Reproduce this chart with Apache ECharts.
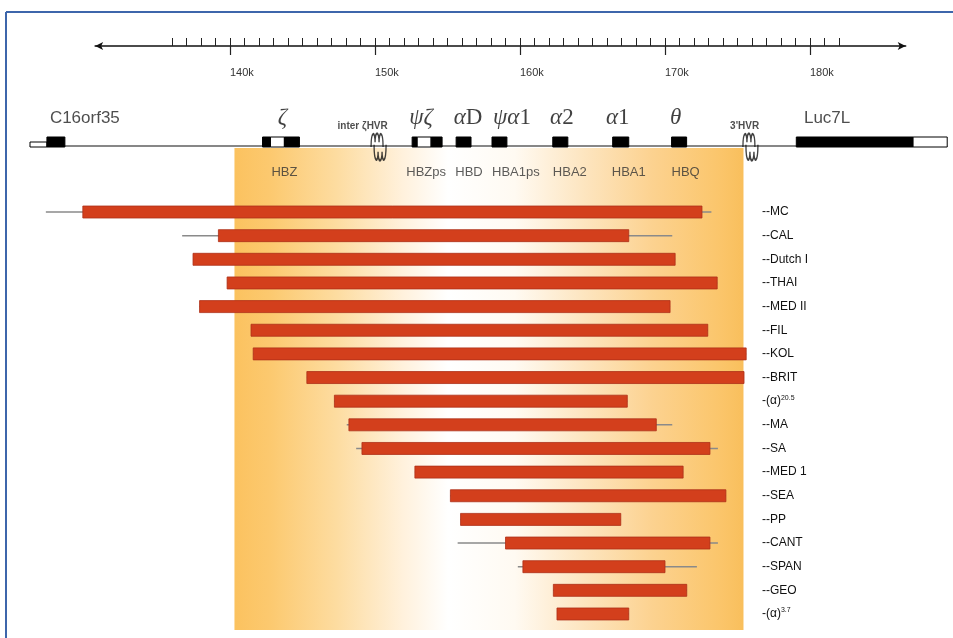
<!DOCTYPE html>
<html>
<head>
<meta charset="utf-8">
<script src="https://cdn.jsdelivr.net/npm/echarts@6/dist/echarts.min.js"></script>
<style>
html,body{margin:0;padding:0;background:#fff;}
#chart{width:953px;height:638px;}
</style>
</head>
<body>
<div id="chart"></div>
<script>
// ruler, in kb
var rulerStart = 130.7, rulerEnd = 186.6;
var minorFrom = 136, minorTo = 182;
var majorFrom = 140, majorTo = 180;

// gene track
var trackFrom = 126.2, trackTo = 189.6;
var segStart = [126.21, 127.38, 142.28, 142.83, 143.79, 152.62, 152.97, 153.93, 155.66, 158.14, 162.34, 166.48, 170.55, 179.17, 187.24];
var segEnd   = [127.38, 128.62, 142.83, 143.79, 144.83, 152.97, 153.93, 154.69, 156.69, 159.17, 163.38, 167.59, 171.59, 187.24, 189.6];
var segKind  = ['utr', 'exon', 'exon', 'gap', 'exon', 'exon', 'gap', 'exon', 'exon', 'exon', 'exon', 'exon', 'exon', 'exon', 'gap'];
var hvrPos = [150.3, 176.0];
var hvrText = ['inter ζHVR', "3'HVR"];
var hvrTextPos = [149.2, 175.6];
var greekText = ['ζ', 'ψζ', 'αD', 'ψα1', 'α2', 'α1', 'θ'];
var greekPos = [143.66, 153.24, 156.48, 159.52, 162.97, 166.83, 170.83];
var symText = ['HBZ', 'HBZps', 'HBD', 'HBA1ps', 'HBA2', 'HBA1', 'HBQ'];
var symPos = [143.79, 153.59, 156.55, 159.79, 163.52, 167.59, 171.52];
var flankText = ['C16orf35', 'Luc7L'];
var flankPos = [130.0, 181.3];

// shaded cluster region
var bandFrom = 140.34, bandTo = 175.52;

// deletions
var delNames = ['MC', 'CAL', 'Dutch I', 'THAI', 'MED II', 'FIL', 'KOL', 'BRIT', '(α)^20.5', 'MA', 'SA', 'MED 1', 'SEA', 'PP', 'CANT', 'SPAN', 'GEO', '(α)^3.7'];
var lineStart = [127.3, 136.7, 137.45, 139.8, 137.9, 141.45, 141.6, 145.3, 147.2, 148.05, 148.7, 152.75, 155.2, 155.9, 155.7, 159.85, 162.3, 162.55];
var barStart  = [129.85, 139.2, 137.45, 139.8, 137.9, 141.45, 141.6, 145.3, 147.2, 148.2, 149.1, 152.75, 155.2, 155.9, 159.0, 160.2, 162.3, 162.55];
var barEnd    = [172.55, 167.5, 170.7, 173.6, 170.35, 172.95, 175.6, 175.45, 167.4, 169.4, 173.1, 171.25, 174.2, 166.95, 173.1, 170.0, 171.5, 167.5];
var lineEnd   = [173.2, 170.5, 170.7, 173.6, 170.35, 172.95, 175.6, 175.45, 167.4, 170.5, 173.65, 171.25, 174.2, 166.95, 173.65, 172.2, 171.5, 167.5];

// layout: px of 140k and px per kb
var PX0 = 230, PXK = 14.5;
function span(a, b, top, height) {
	return {left: PX0 + (a - 140) * PXK, width: (b - a) * PXK, top: top, height: height};
}

var SANS = "'Liberation Sans', Arial, sans-serif";
var SERIF = "'Liberation Serif', 'Times New Roman', serif";

var myChart = echarts.init(document.getElementById('chart'));

// gene boxes
var kindStyle = {
	exon: {h: 10, fill: '#000', stroke: '#000'},
	gap: {h: 10, fill: '#fff', stroke: '#000'},
	utr: {h: 5, fill: '#fff', stroke: '#000'}
};
function renderSeg(params, api) {
	var p0 = api.coord([api.value(0), 50]);
	var p1 = api.coord([api.value(1), 50]);
	var k = kindStyle[segKind[params.dataIndex]];
	return {type: 'rect', shape: {x: p0[0], y: p0[1] + 1 - k.h, width: p1[0] - p0[0], height: k.h},
		style: {fill: k.fill, stroke: k.stroke, lineWidth: 1}};
}

function renderBand(params, api) {
	var a = api.coord([api.value(0), 1]);
	var b = api.coord([api.value(1), 0]);
	return {type: 'rect', shape: {x: a[0], y: a[1], width: b[0] - a[0], height: b[1] - a[1]},
		style: {fill: new echarts.graphic.LinearGradient(0, 0, 1, 0, [
			{offset: 0, color: '#fbc25f'},
			{offset: 0.07, color: '#fcc96f'},
			{offset: 0.2, color: '#fddca0'},
			{offset: 0.33, color: '#fff1dc'},
			{offset: 0.42, color: '#ffffff'},
			{offset: 0.55, color: '#fffaf2'},
			{offset: 0.68, color: '#fde6c2'},
			{offset: 0.82, color: '#fcd290'},
			{offset: 0.95, color: '#fbc66c'},
			{offset: 1, color: '#f9bf5c'}
		])}};
}

function renderDeletion(params, api) {
	var row = api.value(1);
	var a = api.coord([api.value(0), row]);
	var b = api.coord([api.value(2), row]);
	var c = api.coord([api.value(3), row]);
	var d = api.coord([api.value(4), row]);
	var h = 12;
	return {type: 'group', children: [
		{type: 'line', shape: {x1: a[0], y1: a[1], x2: d[0], y2: d[1]}, style: {stroke: '#8a8a8a', lineWidth: 1.5}},
		{type: 'rect', shape: {x: b[0], y: b[1] - h / 2, width: c[0] - b[0], height: h},
			style: {fill: '#d33f1c', stroke: '#ad3018', lineWidth: 0.8}}
	]};
}

function textPoints(pos, texts, y) {
	return pos.map(function (v, i) { return {value: [v, y], name: texts[i]}; });
}

function greekFmt(p) {
	return p.name.split('').map(function (ch) {
		return /[α-ω]/.test(ch) ? '{g|' + ch + '}' : '{n|' + ch + '}';
	}).join('');
}

var hidden = {show: false};
var trackGrid = span(125, 190, 96, 100);
var delGrid = span(125, 176, 200.2, 425.6);

// tandem repeat (HVR) glyph
var hvrSymbol = 'path://M0,14 C0,0 4,0 4,10 C4,0 8,0 8,10 C8,0 12,0 12,14 M3,12 C3,28 7,28 7,18 C7,28 11,28 11,18 C11,28 15,28 15,12';

var option = {
	animation: false,
	backgroundColor: '#fff',
	graphic: [
		{type: 'line', shape: {x1: 6, y1: 12, x2: 953, y2: 12}, style: {stroke: '#3d66ab', lineWidth: 2}},
		{type: 'line', shape: {x1: 6, y1: 12, x2: 6, y2: 638}, style: {stroke: '#3d66ab', lineWidth: 2}}
	],
	grid: [
		span(rulerStart, rulerEnd, 45, 1),
		span(minorFrom, minorTo, 45, 1),
		span(majorFrom, majorTo, 45, 1),
		span(125, 190, 148, 482),
		trackGrid,
		delGrid
	],
	xAxis: [
		{gridIndex: 0, type: 'value', min: rulerStart, max: rulerEnd, splitLine: hidden, axisTick: hidden, axisLabel: hidden,
			axisLine: {show: true, symbol: ['arrow', 'arrow'], symbolSize: [6, 8], lineStyle: {color: '#111', width: 1.5}}},
		{gridIndex: 1, type: 'value', min: minorFrom, max: minorTo, interval: 1, splitLine: hidden, axisLabel: hidden,
			axisLine: hidden, axisTick: {show: true, inside: true, length: 8, lineStyle: {color: '#222', width: 1}}},
		{gridIndex: 2, type: 'value', min: majorFrom, max: majorTo, interval: 10, splitLine: hidden,
			axisLine: hidden, axisTick: {show: true, inside: false, length: 9, lineStyle: {color: '#222', width: 1.2}},
			axisLabel: {show: true, margin: 21, align: 'left', fontSize: 11, color: '#333', fontFamily: SANS,
				formatter: function (v) { return v + 'k'; }}},
		{gridIndex: 3, type: 'value', min: 125, max: 190, show: false},
		{gridIndex: 4, type: 'value', min: 125, max: 190, show: false},
		{gridIndex: 5, type: 'value', min: 125, max: 176, show: false}
	],
	yAxis: [
		{gridIndex: 0, type: 'value', show: false},
		{gridIndex: 1, type: 'value', show: false},
		{gridIndex: 2, type: 'value', show: false},
		{gridIndex: 3, type: 'value', min: 0, max: 1, show: false},
		{gridIndex: 4, type: 'value', min: 0, max: 100, inverse: true, show: false},
		{gridIndex: 5, type: 'category', data: delNames, inverse: true, position: 'right',
			axisLine: hidden, axisTick: hidden, splitLine: hidden,
			axisLabel: {margin: 10, fontSize: 12, color: '#111', fontFamily: SANS,
				formatter: function (v) {
					var parts = v.split('^');
					return parts.length > 1 ? '-' + parts[0] + '{sup|' + parts[1] + '}' : '--' + v;
				},
				rich: {sup: {fontSize: 7, color: '#111', fontFamily: SANS, padding: [0, 0, 7, 0]}}}}
	],
	series: [
		{type: 'custom', xAxisIndex: 3, yAxisIndex: 3, z: 0, silent: true,
			data: [[bandFrom, bandTo]], renderItem: renderBand},
		{type: 'line', xAxisIndex: 4, yAxisIndex: 4, symbol: 'none', silent: true, z: 2,
			lineStyle: {color: '#111', width: 1.2},
			data: [[trackFrom, 50], [trackTo, 50]]},
		{type: 'custom', xAxisIndex: 4, yAxisIndex: 4, z: 3, silent: true,
			data: segStart.map(function (s, i) { return [s, segEnd[i]]; }),
			renderItem: renderSeg},
		{type: 'scatter', xAxisIndex: 4, yAxisIndex: 4, z: 4, silent: true,
			symbol: hvrSymbol, symbolSize: [15, 27],
			itemStyle: {color: 'transparent', borderColor: '#111', borderWidth: 1.8},
			data: hvrPos.map(function (v) { return [v, 51]; })},
		{type: 'scatter', xAxisIndex: 4, yAxisIndex: 4, z: 5, silent: true, symbolSize: 1,
			itemStyle: {color: 'transparent'},
			label: {show: true, position: 'inside', formatter: greekFmt,
				rich: {g: {fontFamily: SERIF, fontSize: 23, fontStyle: 'italic', color: '#111'},
					n: {fontFamily: SERIF, fontSize: 23, color: '#111'}}},
			data: textPoints(greekPos, greekText, 22)},
		{type: 'scatter', xAxisIndex: 4, yAxisIndex: 4, z: 5, silent: true, symbolSize: 1,
			itemStyle: {color: 'transparent'},
			label: {show: true, position: 'inside', formatter: '{b}', fontFamily: SANS, fontSize: 17, color: '#222'},
			data: textPoints(flankPos, flankText, 22)},
		{type: 'scatter', xAxisIndex: 4, yAxisIndex: 4, z: 5, silent: true, symbolSize: 1,
			itemStyle: {color: 'transparent'},
			label: {show: true, position: 'inside', formatter: '{b}', fontFamily: SANS, fontSize: 10, fontWeight: 'bold', color: '#222'},
			data: textPoints(hvrTextPos, hvrText, 30)},
		{type: 'scatter', xAxisIndex: 4, yAxisIndex: 4, z: 5, silent: true, symbolSize: 1,
			itemStyle: {color: 'transparent'},
			label: {show: true, position: 'inside', formatter: '{b}', fontFamily: SANS, fontSize: 13, color: '#333'},
			data: textPoints(symPos, symText, 76)},
		{type: 'custom', xAxisIndex: 5, yAxisIndex: 5, z: 6, silent: true,
			encode: {x: [0, 2, 3, 4], y: 1},
			data: delNames.map(function (n, i) { return [lineStart[i], i, barStart[i], barEnd[i], lineEnd[i]]; }),
			renderItem: renderDeletion}
	]
};

myChart.setOption(option);
</script>
</body>
</html>
